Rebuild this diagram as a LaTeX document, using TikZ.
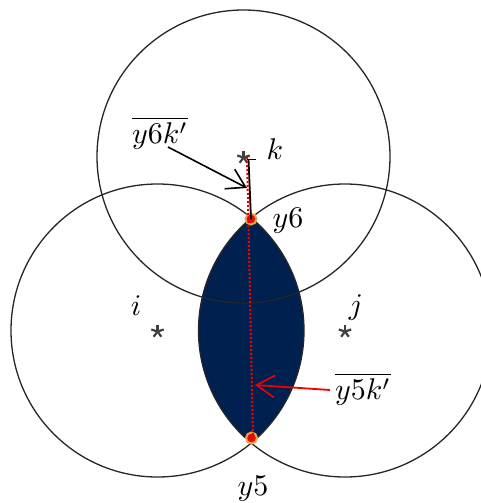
\documentclass[tikz,border=0pt]{standalone}
\usepackage{graphicx}
\usetikzlibrary{arrows.meta}
\definecolor{lensblue}{RGB}{0,32,80}
\definecolor{stargray}{RGB}{64,64,64}
\definecolor{dotred}{RGB}{224,16,0}
\definecolor{dotorange}{RGB}{240,160,70}
\definecolor{arrred}{RGB}{240,0,0}
\newcommand{\bigmath}[1]{\scalebox{3.0}{$#1$}}
\tikzset{
  ring/.style={draw=black!85, line width=1.3pt},
  lbl/.style={inner sep=0pt},
  pt/.style={circle, fill=dotred, draw=dotorange, line width=2pt, minimum size=11pt, inner sep=0pt},
  barb/.style={-{Straight Barb[length=18pt,width=22pt,line width=1.6pt]}}
}
\begin{document}
\begin{tikzpicture}[x=1pt,y=-1pt]
\useasboundingbox (0,0) rectangle (481,503);
% circle centres
\coordinate (ck) at (243.5,156.5);
\coordinate (ci) at (157.5,330.5);
\coordinate (cj) at (345,330.5);
% lens
\begin{scope}
  \clip (ci) circle (146.5);
  \fill[lensblue] (cj) circle (146.5);
\end{scope}
\begin{scope}
  \clip (0,0) rectangle (481,503);
  \draw[ring] (ck) circle (146.5);
  \draw[ring] (ci) circle (146.5);
  \draw[ring] (cj) circle (146.5);
\end{scope}
% stars
\foreach \c in {ck,ci,cj}{
  \foreach \a in {90,162,234,306,18}{
    \draw[stargray, line width=2.2pt] ([yshift=-1pt]\c) -- ++(\a:-6.5);
  }
}
% points
\coordinate (ky) at (248.5,159);
\coordinate (kt) at (247,157);
\coordinate (y5b) at (253,437);
\node[pt] (y6) at (251,219) {};
\node[pt] (y5) at (251.5,438) {};
% black segment from k to y6
\draw[black, line width=1.8pt] (247,159.5) -- (256,159.5);
\draw[black, line width=1.8pt] (ky) -- (y6.center);
% red dotted segment
\draw[arrred, line width=2pt, dash pattern=on 2pt off 2pt] (kt) -- (y5b);
% labels
\node[lbl] (lk) at (275,149) {\bigmath{k}};
\node[lbl] (ly6) at (288,221) {\bigmath{y6}};
\node[lbl] (ly5) at (253,489) {\bigmath{y5}};
\node[lbl] (li) at (136,306) {\bigmath{i}};
\node[lbl] (lj) at (356,308) {\bigmath{j}};
\node[lbl] (lab6) at (160,133) {\bigmath{\overline{y6k'}}};
\node[lbl] (lab5) at (363,389) {\bigmath{\overline{y5k'}}};
% arrows
\coordinate (s6) at (168,147);
\coordinate (a6) at (247,188);
\coordinate (s5) at (330,390);
\coordinate (a5) at (255,385);
\draw[barb, black, line width=1.6pt] (s6) -- (a6);
\draw[barb, arrred, line width=1.8pt] (s5) -- (a5);
\end{tikzpicture}
\end{document}
